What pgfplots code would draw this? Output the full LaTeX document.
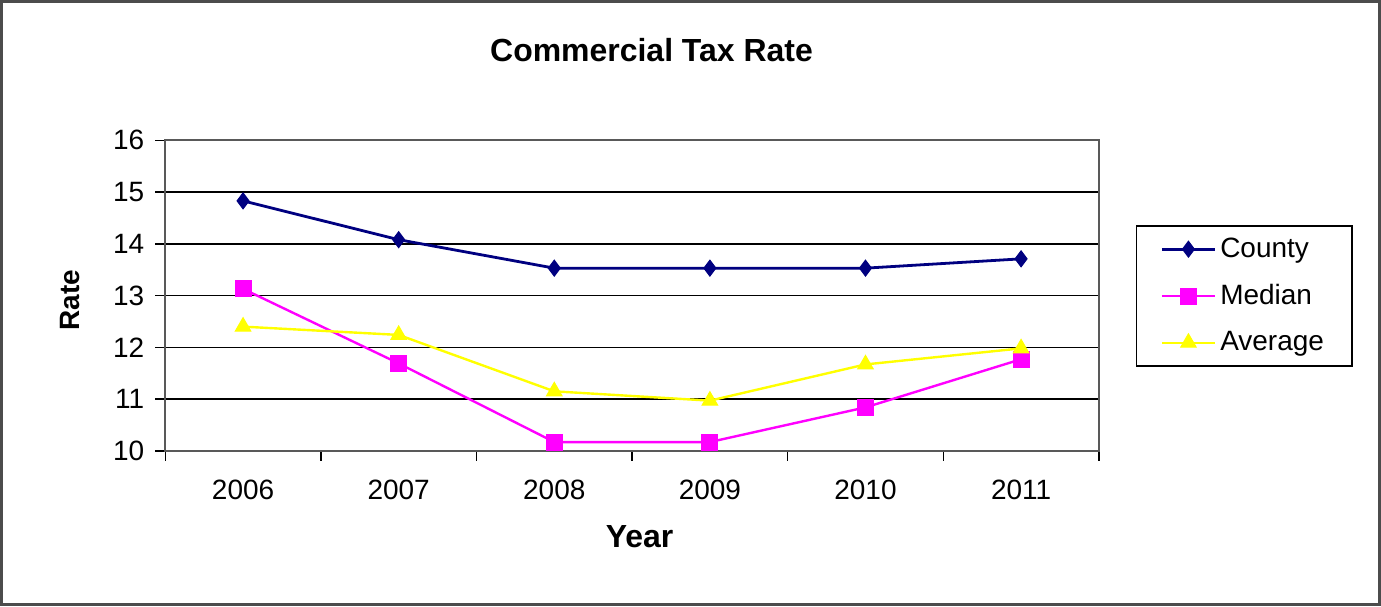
\documentclass[border=0pt]{standalone}
\usepackage{fontspec}
\setmainfont{Liberation Sans}
\usepackage{pgfplots}
\usepackage{pgfplotstable}
\pgfplotsset{compat=1.18}
\definecolor{county}{RGB}{0,0,128}
\definecolor{median}{RGB}{255,0,255}
\definecolor{avg}{RGB}{255,255,0}
\pgfplotstableread{
x County Median Average
0 14.83 13.13 12.40
1 14.08 11.69 12.24
2 13.53 10.17 11.15
3 13.53 10.17 10.97
4 13.53 10.84 11.67
5 13.71 11.77 11.98
}\datatable
\begin{document}
\begin{tikzpicture}[font=\fontsize{14pt}{17pt}\selectfont]
\begin{axis}[
  at={(0,0)}, anchor=south west,
  scale only axis, width=467.5pt, height=155.5pt,
  xmin=-0.5, xmax=5.5, ymin=10, ymax=16,
  xtick={0,...,5},
  xticklabels={2006,2007,2008,2009,2010,2011},
  major x tick style={draw=none},
  minor xtick={-0.5,0.5,1.5,2.5,3.5,4.5,5.5},
  minor x tick style={black, line width=0.75pt},
  minor tick length=5pt,
  ytick={10,11,...,16},
  y tick style={black, line width=0.75pt},
  major tick length=5pt,
  tick align=outside,
  xtick pos=bottom, ytick pos=left,
  ymajorgrids,
  major grid style={black, line width=0.75pt},
  axis line style={draw=gray!70!black, line width=0.9pt},
  /pgf/number format/assume math mode=true,
  xticklabel style={yshift=-6pt},
  yticklabel style={xshift=-2pt},
  xlabel={\bfseries Year},
  ylabel={\bfseries Rate},
  xlabel style={at={(axis description cs:0.508,-0.2765)}, anchor=center, font=\fontsize{16pt}{19pt}\selectfont},
  ylabel style={at={(axis description cs:-0.1016,0.486)}, anchor=center},
  legend style={at={(axis description cs:1.0396,0.7267)}, anchor=north west,
    draw=black, line width=0.75pt, fill=white, inner xsep=12pt, inner ysep=4pt,
    row sep=8pt, cells={anchor=west},
    font=\fontsize{14pt}{17pt}\selectfont},
  legend image code/.code={\draw[mark repeat=2,mark phase=2] plot coordinates {(0pt,0pt) (13.25pt,0pt) (26.5pt,0pt)};},
]
\addplot[county, line width=1.4pt, mark=diamond*, mark size=4pt, mark options={fill=county, line width=0.5pt}] table[x=x,y=County] {\datatable};
\addlegendentry{County}
\addplot[median, line width=1.2pt, mark=square*, mark size=4pt, mark options={fill=median, line width=0.5pt}] table[x=x,y=Median] {\datatable};
\addlegendentry{Median}
\addplot[avg, line width=1.2pt, mark=triangle*, mark size=4.5pt, mark options={fill=avg, line width=0.5pt}] table[x=x,y=Average] {\datatable};
\addlegendentry{Average}
\end{axis}
\node[font=\fontsize{16pt}{19pt}\selectfont\bfseries] at (243.5pt,200.5pt) {Commercial Tax Rate};
\draw[line width=1.5pt, gray!60!black] (-82pt,-77pt) rectangle (608pt,225pt);
\end{tikzpicture}
\end{document}
